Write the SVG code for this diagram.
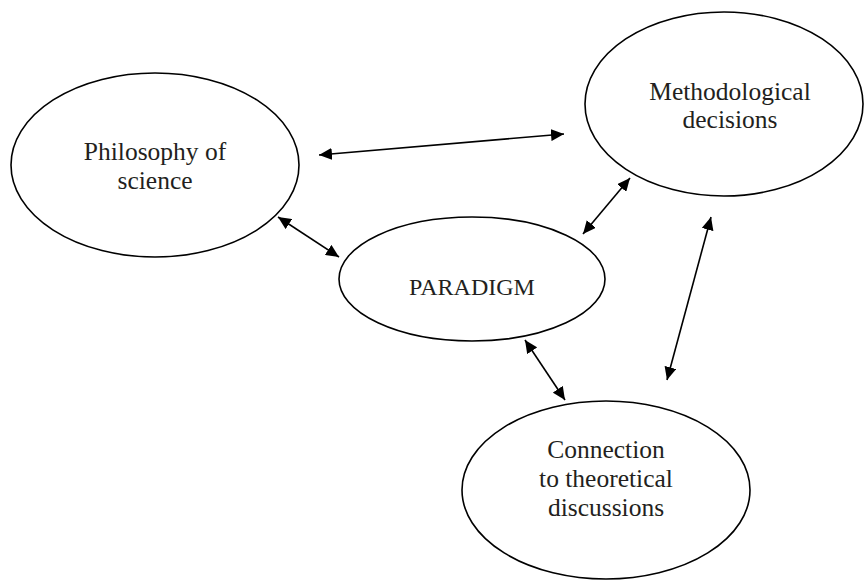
<svg xmlns="http://www.w3.org/2000/svg" width="864" height="580" viewBox="0 0 864 580">
  <style>
    .node ellipse { fill: #ffffff; stroke: #000000; stroke-width: 1.6; }
    .node text { font-family: "Liberation Serif", "Times New Roman", serif; font-size: 25.5px; fill: #231f20; text-anchor: middle; }
    .conn line { stroke: #000000; stroke-width: 1.6; marker-start: url(#head); marker-end: url(#head); }
  </style>
  <defs>
    <marker id="head" viewBox="0 0 13 12" refX="13" refY="6" markerWidth="13" markerHeight="12" markerUnits="userSpaceOnUse" orient="auto-start-reverse">
      <path d="M0,0 L13,6 L0,12 z" fill="#000000"/>
    </marker>
  </defs>
  <rect width="864" height="580" fill="#ffffff"/>

  <g id="philosophy" class="node">
    <ellipse cx="155" cy="165" rx="144" ry="92"/>
    <text x="155" y="160">Philosophy of</text>
    <text x="155" y="189">science</text>
  </g>

  <g id="methodological" class="node">
    <ellipse cx="724" cy="104" rx="139" ry="92"/>
    <text x="730" y="100">Methodological</text>
    <text x="730" y="128">decisions</text>
  </g>

  <g id="paradigm" class="node">
    <ellipse cx="472" cy="279" rx="133" ry="62"/>
    <text x="472" y="295" style="font-size:24px">PARADIGM</text>
  </g>

  <g id="connection" class="node">
    <ellipse cx="606" cy="490" rx="144" ry="89"/>
    <text x="606" y="458">Connection</text>
    <text x="606" y="487">to theoretical</text>
    <text x="606" y="516">discussions</text>
  </g>

  <g id="connectors" class="conn">
    <line x1="319" y1="155" x2="564" y2="134"/>
    <line x1="278" y1="217" x2="339" y2="257"/>
    <line x1="583" y1="234" x2="630" y2="178"/>
    <line x1="525" y1="340" x2="565" y2="400"/>
    <line x1="667" y1="380" x2="711" y2="217"/>
  </g>
</svg>
